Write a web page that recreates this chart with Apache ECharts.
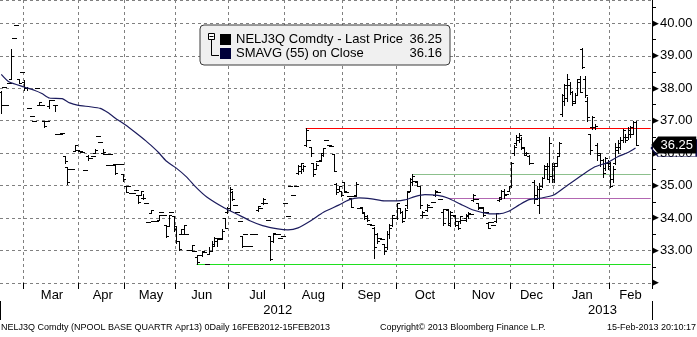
<!DOCTYPE html>
<html>
<head>
<meta charset="utf-8">
<script src="https://cdn.jsdelivr.net/npm/echarts@6.0.0/dist/echarts.min.js"></script>
<style>
html,body{margin:0;padding:0;background:#fff;}
#chart{width:697px;height:337px;}
</style>
</head>
<body>
<div id="chart"></div>
<script>
// ---- Data: daily bars per month, each item [open, close, low, high] or a single value for flat days ----
const feb12 = [[37.9,37.5,37.25,37.92],38.03,37.5,38.15,[38.3,39.0,38.3,39.2],39.55,39.95,[38.3,38.15,38.15,38.3],38.5];
const mar12 = [[38.2,38.0,37.95,38.25],[38.0,38.0,37.95,38.05],37.4,37.15,37.0,38.0,[37.5,37.57,37.48,37.57],37.5,[37.0,36.85,36.8,37.0],37.0,[37.45,37.65,37.4,37.65],37.65,[37.48,37.48,37.3,37.48],36.6,36.6,36.62,[35.9,35.75,35.7,35.9],[35.58,35.1,35.06,35.58],35.5,35.5,[36.07,36.25,36.07,36.25],36.1];
const apr12 = [36.07,36.05,35.48,[35.9,35.85,35.8,35.95],35.85,35.9,[36.0,36.1,36.0,36.13],36.53,36.36,[36.0,36.05,35.97,36.13],35.97,35.63,35.97,35.63,[35.67,35.38,35.35,35.67],35.67,35.67,[35.35,35.2,35.15,35.35]];
const may12 = [[35.0,34.8,34.8,35.0],35.0,34.78,34.78,34.87,[34.72,34.5,34.46,34.72],[34.7,34.85,34.7,34.85],[34.62,34.62,34.6,34.75],34.48,33.87,[34.16,34.26,34.16,34.26],33.9,33.9,[33.95,34.1,33.95,34.1],34.2,34.1,[33.8,33.45,33.43,33.8],[33.75,34.1,33.75,34.1],34.18,[34.05,33.65,33.6,34.05]];
const jun12 = [[33.75,33.3,33.24,33.75],[33.3,33.05,33.02,33.3],[33.5,33.65,33.5,33.65],[33.5,33.8,33.5,33.8],33.5,33.02,[33.02,33.17,33.02,33.17],33.0,[32.8,32.65,32.6,32.85],32.85,[32.85,33.0,32.83,33.0],32.95,32.6,[32.9,33.0,32.89,33.1],[33.0,33.2,33.0,33.3],[33.15,33.4,33.14,33.42],[33.3,33.4,33.15,33.4],33.35,[33.4,33.6,33.35,33.65],[34.0,33.7,33.7,34.0],[34.2,34.3,34.15,34.35]];
const jul12 = [[34.3,34.9,34.25,34.95],[34.8,34.6,34.55,34.85],34.4,34.2,33.9,[33.45,33.15,33.1,33.45],33.5,33.15,33.15,33.5,33.5,[34.25,34.38,34.23,34.38],34.3,[34.45,34.6,34.44,34.62],34.45,33.93,[33.45,32.75,32.7,33.45],[33.3,33.55,33.25,33.55],33.5,33.5,33.4,33.45];
const aug12 = [34.45,34.07,35.0,34.7,35.0,[35.4,35.6,35.35,35.65],[35.45,35.7,35.4,35.7],[35.5,35.6,35.45,35.65],[36.25,36.7,36.23,36.78],36.42,[36.2,36.0,35.9,36.2],[35.7,35.35,35.3,35.7],[35.5,35.65,35.5,35.7],35.75,[35.8,35.95,35.75,35.96],[36.0,36.15,35.9,36.16],36.42,36.25,36.23,[35.98,35.45,35.45,35.98],[35.05,34.8,34.73,35.07],[34.9,35.0,34.85,35.0],[34.85,34.7,34.67,34.85]];
const sep12 = [[35.1,34.85,34.83,35.1],34.8,34.68,[34.63,34.35,34.33,34.63],34.68,[34.7,35.05,34.7,35.1],34.3,[34.35,34.2,34.17,34.35],[34.15,34.0,33.97,34.17],[34.05,33.95,33.92,34.1],33.82,33.8,[33.7,33.1,32.77,33.72],[33.5,33.3,33.24,33.55],33.4,33.35,[33.2,33.0,32.9,33.2],[33.1,33.5,33.05,33.6],[33.5,33.7,33.4,33.82],[33.8,34.1,33.75,34.1],34.0];
const oct12 = [[34.0,34.45,33.97,34.48],[34.3,34.2,34.15,34.3],[34.2,33.9,33.87,34.22],[34.0,34.25,34.0,34.3],[34.4,34.8,34.32,34.83],[34.85,35.2,34.83,35.24],[35.1,35.3,35.03,35.37],35.14,[35.1,35.0,34.98,35.1],[34.98,34.4,34.32,34.98],[34.1,34.2,34.02,34.22],34.1,[34.25,34.4,34.22,34.43],34.35,34.5,[34.7,34.85,34.68,34.88],34.8,34.6,[34.2,33.85,33.78,34.27],34.27,[34.25,33.85,33.78,34.27],[33.8,34.2,33.77,34.22],34.1];
const nov12 = [[34.05,33.8,33.76,34.07],[33.9,33.7,33.65,33.92],[33.9,34.05,33.85,34.07],33.95,[34.0,34.1,33.9,34.12],[34.05,34.15,34.0,34.2],34.12,[34.55,34.7,34.53,34.73],34.6,[34.45,34.3,34.27,34.48],34.35,[34.3,34.1,34.07,34.32],34.2,[33.85,33.7,33.68,33.87],33.87,33.8,[33.9,34.15,33.88,34.15],[34.55,34.6,34.53,34.63],[34.65,34.85,34.63,34.88],[34.85,34.7,34.63,34.9],34.75,[34.85,35.0,34.83,35.0]];
const dec12 = [[35.0,35.7,34.97,35.74],[36.0,36.2,35.94,36.24],[36.3,36.5,36.24,36.55],[36.4,36.55,36.35,36.62],[36.45,36.2,36.14,36.5],[36.15,36.0,35.94,36.2],[35.95,36.0,35.94,36.05],[35.9,35.7,35.68,35.94],35.7,[35.1,34.6,34.46,35.17],[34.7,34.9,34.6,35.0],[34.4,34.9,34.15,35.07],[35.0,35.25,34.97,35.27],[35.25,35.6,35.22,35.63],[35.5,35.6,35.22,35.7],[35.2,36.3,35.12,36.5],[35.3,35.6,35.1,35.7]];
const jan13 = [[35.2,35.6,35.12,35.7],[35.7,35.9,35.6,35.9],[36.0,36.3,35.94,36.35],[37.2,37.8,37.16,37.83],[37.6,38.1,37.47,38.13],[37.7,38.3,37.62,38.44],[38.1,37.9,37.83,38.18],[37.9,37.55,37.47,37.93],[37.6,37.8,37.55,37.85],[37.8,38.2,37.78,38.28],[38.3,37.9,37.88,38.39],[39.2,38.65,38.64,39.25],[38.3,37.8,37.72,38.39],[37.6,37.1,37.0,37.72],[36.6,36.1,35.99,36.6],[36.8,37.1,36.76,37.16],[36.8,36.85,36.76,36.9],[36.25,36.0,35.79,36.3],[35.95,35.8,35.6,36.0],[35.8,35.4,35.27,35.83],[35.55,35.85,35.48,35.89],[35.7,35.6,35.5,35.8]];
const feb13 = [[35.7,35.0,34.97,35.74],[35.2,35.5,35.1,35.6],[35.7,36.2,35.68,36.3],[36.1,36.3,36.0,36.4],[36.2,36.4,36.14,36.5],[36.4,36.7,36.35,36.76],[36.5,36.4,36.35,36.6],[36.5,36.7,36.45,36.8],[36.6,36.8,36.5,36.85],[36.6,36.95,36.6,37.0],[36.95,36.25,36.25,37.0]];

const monthNames = ['', 'Mar', 'Apr', 'May', 'Jun', 'Jul', 'Aug', 'Sep', 'Oct', 'Nov', 'Dec', 'Jan', 'Feb'];
const yearNames = ['2012', '2013'];
const yearStartMonth = [0, 11];

// 55-day simple moving average at these day positions
const smaIdx = [0,3,9,13,16,19,24,27,30,35,39,42,46,49,53,57,60,62,65,69,73,77,81,88,93,98,103,109,113,117,122,127,133,137,141,146,151,156,159,163,167,172,176,181,186,192,196,200,204,208,213,218,223,229,234,239,243,247,250];
const smaVal = [38.43,38.2,38.04,37.94,37.84,37.7,37.68,37.55,37.48,37.43,37.38,37.25,37.02,36.87,36.63,36.38,36.17,36.02,35.76,35.54,35.27,34.93,34.65,34.31,34.12,33.92,33.77,33.67,33.64,33.7,33.92,34.18,34.4,34.56,34.62,34.59,34.53,34.53,34.56,34.66,34.72,34.7,34.62,34.43,34.25,34.14,34.13,34.21,34.4,34.57,34.62,34.72,35.0,35.33,35.58,35.71,35.89,36.02,36.16];

// Support / resistance levels: [start day, value, colour]
const levelStart = [120, 162, 176, 77];
const levelValue = [36.77, 35.36, 34.62, 32.58];
const levelColor = ['#ff0000', '#8cc08c', '#b266b2', '#1fe01f'];

const priceName = 'NELJ3Q Comdty - Last Price';
const smaName = 'SMAVG (55) on Close';
const yTicks = [32, 33, 34, 35, 36, 37, 38, 39, 40];

// ---- Build categories ----
const months = [feb12, mar12, apr12, may12, jun12, jul12, aug12, sep12, oct12, nov12, dec12, jan13, feb13];
const cats = [];
const ohlc = [];
const starts = [];
months.forEach((m, mi) => {
  starts.push(cats.length);
  m.forEach((d, j) => {
    const b = Array.isArray(d) ? d : [d, d, d, d];
    ohlc.push([cats.length, b[0], b[1], b[2], b[3]]);
    cats.push(mi + '-' + j);
  });
});
const PAD = 6;
for (let k = 0; k < PAD; k++) cats.push('pad' + k);
const lastIdx = cats.length - 1;

const monthStart = new Set(starts.slice(1));
const monthLabel = new Map();
for (let mi = 1; mi < months.length; mi++) {
  const end = mi < months.length - 1 ? starts[mi + 1] : cats.length;
  monthLabel.set(Math.floor((starts[mi] + end) / 2), monthNames[mi]);
}
const yearLabel = new Map();
const yearBoundary = new Set();
yearStartMonth.forEach((sm, yi) => {
  const s = starts[sm];
  const e = yi < yearStartMonth.length - 1 ? starts[yearStartMonth[yi + 1]] : cats.length;
  yearLabel.set(Math.floor((s + e) / 2), yearNames[yi]);
  if (yi > 0) yearBoundary.add(s);
});

const lastClose = ohlc[ohlc.length - 1][2];
const lastSma = smaVal[smaVal.length - 1];
const smaData = smaIdx.map((d, i) => [d, smaVal[i]]);

const FONT = 'Liberation Sans, Arial, sans-serif';

function renderOHLC(params, api) {
  const i = api.value(0);
  const pO = api.coord([i, api.value(1)]);
  const yC = Math.round(api.coord([i, api.value(2)])[1]) + 0.5;
  const yL = api.coord([i, api.value(3)])[1];
  const yH = api.coord([i, api.value(4)])[1];
  const xc = Math.round(pO[0]);
  const x = xc + 0.5;
  const yO = Math.round(pO[1]) + 0.5;
  const st = { stroke: '#000', lineWidth: 1, fill: null };
  const ch = [
    { type: 'line', shape: { x1: xc - 2, y1: yO, x2: xc + 1, y2: yO }, style: st },
    { type: 'line', shape: { x1: xc, y1: yC, x2: xc + 3, y2: yC }, style: st }
  ];
  if (Math.abs(yL - yH) > 0.5) {
    ch.push({ type: 'line', shape: { x1: x, y1: Math.round(yH), x2: x, y2: Math.round(yL) + 1 }, style: st });
  }
  return { type: 'group', children: ch };
}

const levelLines = levelValue.map((v, i) => [
  { coord: [levelStart[i], v], lineStyle: { color: levelColor[i], width: 1, type: 'solid' } },
  { coord: [lastIdx, v] }
]);

const tagPath = 'path://M0,8L7,0L46,0L46,16L7,16Z';

const chart = echarts.init(document.getElementById('chart'), null, { renderer: 'canvas' });
chart.setOption({
  animation: false,
  backgroundColor: '#ffffff',
  textStyle: { fontFamily: FONT },
  grid: { left: 0, right: 45, top: -1, bottom: 54, containLabel: false },
  title: [
    { text: 'NELJ3Q Comdty (NPOOL BASE QUARTR Apr13) 0Daily 16FEB2012-15FEB2013', left: 1, top: 323, padding: 0,
      textStyle: { fontSize: 9, fontWeight: 'normal', color: '#000', fontFamily: FONT } },
    { text: 'Copyright\u00A9 2013 Bloomberg Finance L.P.', left: 380, top: 323, padding: 0,
      textStyle: { fontSize: 9, fontWeight: 'normal', color: '#000', fontFamily: FONT } },
    { text: '15-Feb-2013 20:10:17', right: 1, top: 323, padding: 0,
      textStyle: { fontSize: 9, fontWeight: 'normal', color: '#000', fontFamily: FONT } }
  ],
  legend: {
    orient: 'vertical', left: 200, top: 25,
    padding: [8, 8, 5, 20], itemGap: 1, itemWidth: 11, itemHeight: 11,
    backgroundColor: '#f0f0f0', borderColor: '#3a3a3a', borderWidth: 1, borderRadius: 4,
    selectedMode: false,
    data: [
      { name: priceName, icon: 'rect', itemStyle: { color: '#000000' } },
      { name: smaName, icon: 'rect', itemStyle: { color: '#00003a' } }
    ],
    formatter: function (name) {
      const v = name === priceName ? lastClose : lastSma;
      return '{n|' + name + '}{v|' + v.toFixed(2) + '}';
    },
    textStyle: {
      color: '#000', fontSize: 13, fontFamily: FONT,
      rich: {
        n: { width: 168, fontSize: 13, color: '#000', fontFamily: FONT },
        v: { width: 38, align: 'right', fontSize: 13, color: '#000', fontFamily: FONT }
      }
    }
  },
  graphic: [
    { type: 'rect', z: 20, shape: { x: 208.5, y: 33.5, width: 6, height: 6 }, style: { fill: '#fff', stroke: '#000', lineWidth: 1 } },
    { type: 'line', z: 21, shape: { x1: 209.5, y1: 36.5, x2: 213.5, y2: 36.5 }, style: { stroke: '#000', lineWidth: 1 } },
    { type: 'polyline', z: 20, shape: { points: [[211.5, 40], [211.5, 55.5], [219, 55.5]] }, style: { stroke: '#000', lineWidth: 1, fill: null } }
  ],
  xAxis: [{
    type: 'category', data: cats, boundaryGap: true,
    axisLine: { show: false },
    axisTick: { show: true, length: 6, interval: (i) => monthStart.has(i), lineStyle: { color: '#000', width: 1 } },
    axisLabel: { interval: (i) => monthLabel.has(i), formatter: (v, i) => monthLabel.get(i) || '',
      margin: 6, fontSize: 13, color: '#000', fontFamily: FONT },
    splitLine: { show: true, interval: (i) => monthStart.has(i), lineStyle: { color: '#808080', type: [3, 3], width: 1 } }
  }, {
    type: 'category', data: cats, boundaryGap: true, position: 'bottom', offset: 18, gridIndex: 0,
    axisLine: { show: false },
    axisTick: { show: true, length: 19, interval: (i) => yearBoundary.has(i), lineStyle: { color: '#000', width: 1 } },
    axisLabel: { interval: (i) => yearLabel.has(i), formatter: (v, i) => yearLabel.get(i) || '',
      margin: 3, fontSize: 13, color: '#000', fontFamily: FONT },
    splitLine: { show: false }
  }],
  yAxis: {
    type: 'value', position: 'right', min: 32, max: 40.72, interval: 1,
    axisLine: { show: true, lineStyle: { color: '#000', width: 1 } },
    axisTick: { show: false },
    minorTick: { show: true, splitNumber: 2, length: 4, lineStyle: { color: '#000' } },
    minorSplitLine: { show: false },
    splitLine: { show: true, lineStyle: { color: '#808080', type: [3, 3], width: 1 } },
    axisLabel: {
      margin: 0, showMaxLabel: false,
      formatter: function (v) {
        if (yTicks.indexOf(v) < 0) return '';
        if (v === yTicks[0]) return '{t|\u25B6}';
        return '{t|\u25B6}{v|' + v.toFixed(2) + '}';
      },
      rich: {
        t: { fontSize: 9, fontFamily: 'DejaVu Sans', color: '#000', padding: [0, 1, 0, 0] },
        v: { fontSize: 13, fontFamily: FONT, color: '#000' }
      }
    }
  },
  series: [
    {
      name: priceName, type: 'custom', silent: true, z: 3,
      itemStyle: { color: '#000' },
      renderItem: renderOHLC,
      encode: { x: 0, y: [1, 2, 3, 4] },
      data: ohlc
    },
    {
      name: smaName, type: 'line', silent: true, z: 4,
      data: smaData, smooth: 0.2, showSymbol: false, symbol: 'none',
      lineStyle: { color: '#1c1c5e', width: 1.2 },
      itemStyle: { color: '#00003a' },
      markLine: {
        silent: true, symbol: 'none', label: { show: false }, z: 2,
        data: levelLines
      },
      markPoint: {
        silent: true, z: 10,
        symbol: tagPath, symbolKeepAspect: false,
        data: [
          { coord: [lastIdx, lastSma], symbol: tagPath, symbolSize: [45, 17], symbolOffset: [23, 0],
            itemStyle: { color: 'rgba(0,0,0,0)', borderColor: '#0a0a4a', borderWidth: 1 },
            label: { show: false } },
          { coord: [lastIdx, lastClose], symbol: tagPath, symbolSize: [45, 17], symbolOffset: [23, 0],
            itemStyle: { color: '#000' },
            label: { show: true, position: 'inside', offset: [3, 0], formatter: lastClose.toFixed(2), color: '#fff', fontSize: 13, fontFamily: FONT } }
        ]
      }
    }
  ]
});
</script>
</body>
</html>
